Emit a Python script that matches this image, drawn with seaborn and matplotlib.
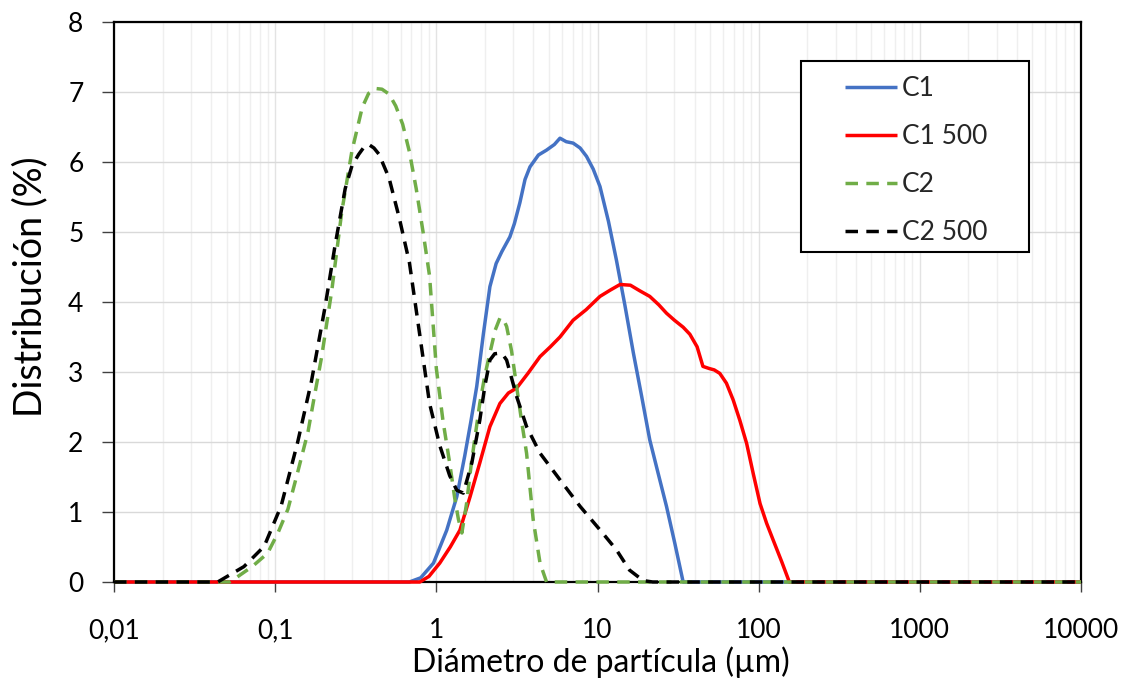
import matplotlib
matplotlib.use("Agg")
import matplotlib.pyplot as plt
from matplotlib.ticker import FixedLocator, FixedFormatter, LogLocator, NullFormatter
from matplotlib.patches import Rectangle
import numpy as np
import pandas as pd
import seaborn as sns

# Particle size distributions (diameter in µm, volume fraction in %)
c1_x = [0.01, 0.68, 0.80, 0.96, 1.16, 1.34, 1.50, 1.64, 1.78, 1.96, 2.15, 2.35, 2.55, 2.86,
        3.05, 3.30, 3.55, 3.81, 4.30, 4.83, 5.40, 5.85, 6.40, 7.06, 7.80, 8.55, 9.40, 10.36,
        11.7, 13.1, 14.8, 16.7, 18.8, 21.1, 23.8, 26.8, 30.2, 34.0, 10000]
c1_y = [0, 0, 0.06, 0.27, 0.74, 1.22, 1.80, 2.30, 2.79, 3.55, 4.22, 4.55, 4.72, 4.93,
        5.12, 5.42, 5.75, 5.93, 6.10, 6.17, 6.25, 6.34, 6.29, 6.27, 6.20, 6.08, 5.90, 5.65,
        5.15, 4.60, 3.95, 3.27, 2.65, 2.03, 1.55, 1.08, 0.55, 0, 0]

c1_500_x = [0.01, 0.79, 0.90, 1.05, 1.22, 1.40, 1.62, 1.86, 2.15, 2.48, 2.80, 3.15, 3.70,
            4.40, 5.10, 5.85, 7.06, 8.50, 10.36, 12.0, 13.8, 16.0, 18.3, 21.1, 24.0, 26.8,
            30.0, 34.0, 37.4, 41.5, 45.1, 49.3, 53.0, 57.4, 63.1, 69.5, 76.4, 84.2, 92.5,
            102, 112, 123, 139, 155, 10000]
c1_500_y = [0, 0, 0.08, 0.27, 0.50, 0.74, 1.22, 1.70, 2.22, 2.55, 2.70, 2.77, 2.98,
            3.22, 3.36, 3.50, 3.74, 3.89, 4.08, 4.17, 4.25, 4.24, 4.16, 4.08, 3.96, 3.84,
            3.74, 3.64, 3.54, 3.36, 3.08, 3.05, 3.03, 2.98, 2.84, 2.60, 2.31, 1.98, 1.55,
            1.12, 0.84, 0.60, 0.29, 0, 0]

c2_x = [0.01, 0.052, 0.058, 0.072, 0.0897, 0.104, 0.120, 0.138, 0.160, 0.176, 0.194, 0.225,
        0.259, 0.299, 0.347, 0.380, 0.420, 0.460, 0.509, 0.560, 0.618, 0.680, 0.750, 0.830,
        0.908, 1.00, 1.10, 1.21, 1.30, 1.37, 1.44, 1.54, 1.65, 1.86, 2.00, 2.15, 2.32, 2.48,
        2.60, 2.73, 2.93, 3.15, 3.38, 3.63, 3.99, 4.40, 4.83, 10000]
c2_y = [0, 0, 0.07, 0.22, 0.41, 0.70, 1.04, 1.57, 2.15, 2.68, 3.21, 4.18,
        5.29, 6.15, 6.78, 6.98, 7.05, 7.04, 6.97, 6.80, 6.54, 6.15, 5.62, 4.98,
        4.37, 3.05, 2.30, 1.70, 1.20, 0.90, 0.70, 1.12, 1.70, 2.55, 2.95, 3.27, 3.60, 3.77,
        3.76, 3.65, 3.30, 2.79, 2.30, 1.84, 0.89, 0.27, 0, 0]

c2_500_x = [0.01, 0.044, 0.064, 0.0855, 0.109, 0.138, 0.168, 0.204, 0.235, 0.272, 0.300,
            0.330, 0.355, 0.381, 0.410, 0.441, 0.509, 0.589, 0.681, 0.787, 0.908, 1.05,
            1.21, 1.34, 1.47, 1.66, 1.86, 2.00, 2.15, 2.30, 2.48, 2.60, 2.73, 3.15, 3.63,
            4.40, 5.85, 7.80, 10.4, 13.1, 15.8, 19.2, 22.0, 10000]
c2_500_y = [0, 0, 0.22, 0.51, 1.09, 2.00, 2.87, 3.93, 4.80, 5.62, 5.95,
            6.11, 6.21, 6.25, 6.20, 6.11, 5.77, 5.20, 4.56, 3.55, 2.55, 1.95,
            1.52, 1.31, 1.27, 1.70, 2.31, 2.80, 3.17, 3.26, 3.27, 3.24, 3.17, 2.65, 2.22,
            1.84, 1.46, 1.08, 0.74, 0.46, 0.17, 0.02, 0, 0]

series_names = ["C1", "C1 500", "C2", "C2 500"]
series_x = [c1_x, c1_500_x, c2_x, c2_500_x]
series_y = [c1_y, c1_500_y, c2_y, c2_500_y]

x_ticks = [0.01, 0.1, 1, 10, 100, 1000, 10000]
x_tick_labels = ["0,01", "0,1", "1", "10", "100", "1000", "10000"]
y_ticks = [0, 1, 2, 3, 4, 5, 6, 7, 8]

frames = []
for name, xs, ys in zip(series_names, series_x, series_y):
    frames.append(pd.DataFrame({"d": xs, "p": ys, "serie": name}))
df = pd.concat(frames, ignore_index=True)

palette = {"C1": "#4472C4", "C1 500": "#FF0000", "C2": "#70AD47", "C2 500": "#000000"}
dashes = {"C1": "", "C1 500": "", "C2": (3.6, 2.4), "C2 500": (3.6, 2.4)}

sns.set_theme(style="white")
plt.rcParams["font.family"] = ["Lato", "DejaVu Sans"]

W, H = 1122, 681
fig = plt.figure(figsize=(W / 100, H / 100), dpi=100)
ax = fig.add_axes([114 / W, 1 - 582 / H, (1081 - 114) / W, (582 - 22) / H])

sns.lineplot(data=df, x="d", y="p", hue="serie", style="serie", palette=palette,
             dashes=dashes, hue_order=series_names, style_order=series_names,
             sort=False, estimator=None, units="serie", linewidth=2.5, ax=ax)

for ln in ax.get_lines():
    ln.set_clip_on(False)
    ln.set_zorder(3)
    ln.set_solid_joinstyle("round")
    ln.set_dash_joinstyle("round")
    ln.set_solid_capstyle("butt")
    ln.set_dash_capstyle("butt")

ax.set_xscale("log")
ax.set_xlim(0.01, 10000)
ax.set_ylim(0, 8)

ax.xaxis.set_major_locator(FixedLocator(x_ticks))
ax.xaxis.set_major_formatter(FixedFormatter(x_tick_labels))
ax.xaxis.set_minor_locator(LogLocator(base=10, subs=np.arange(2, 10)))
ax.xaxis.set_minor_formatter(NullFormatter())
ax.yaxis.set_major_locator(FixedLocator(y_ticks))
ax.yaxis.set_major_formatter(FixedFormatter([str(v) for v in y_ticks]))

ax.grid(which="minor", axis="x", color="#EFEFEF", linewidth=1.0)
ax.grid(which="major", axis="x", color="#E3E3E3", linewidth=1.0)
ax.grid(which="major", axis="y", color="#D9D9D9", linewidth=1.0)
ax.set_axisbelow(True)

for sp in ax.spines.values():
    sp.set_visible(True)
    sp.set_color("black")
    sp.set_linewidth(1.6)
    sp.set_zorder(2.5)

ax.tick_params(axis="x", which="major", direction="out", length=7, width=1,
               color="#404040", labelsize=19, pad=19, labelcolor="black", bottom=True)
ax.tick_params(axis="x", which="minor", length=0)
ax.tick_params(axis="y", which="major", direction="out", length=9, width=1,
               color="#404040", labelsize=19, pad=13, labelcolor="black", left=True)

ax.set_xlabel("Diámetro de partícula (µm)", fontsize=23, color="black")
ax.set_ylabel("Distribución (%)", fontsize=27, color="black")
ax.xaxis.label.set_va("center")
ax.yaxis.label.set_va("center")
ax.xaxis.set_label_coords(0.503, (582 - 662) / 560)
ax.yaxis.set_label_coords((30 - 114) / 967, 0.527)

# Legend box with a plain black frame
box = Rectangle((801 / W, 1 - 252 / H), 228 / W, 191 / H, transform=fig.transFigure,
                facecolor="white", edgecolor="black", linewidth=1.5, zorder=4)
ax.add_artist(box)
box.set_clip_on(False)

handles, labels = ax.get_legend_handles_labels()
if ax.get_legend() is not None:
    ax.get_legend().remove()
leg = ax.legend(handles, labels, loc="upper left", bbox_to_anchor=(845 / W, 1 - 76 / H),
                bbox_transform=fig.transFigure, frameon=False, fontsize=19,
                borderpad=0, borderaxespad=0, handlelength=1.97, handletextpad=0.18,
                labelspacing=0.87)
leg.set_zorder(5)
for lh in leg.get_lines():
    lh.set_linewidth(2.5)

fig.savefig("out.png", dpi=100)
